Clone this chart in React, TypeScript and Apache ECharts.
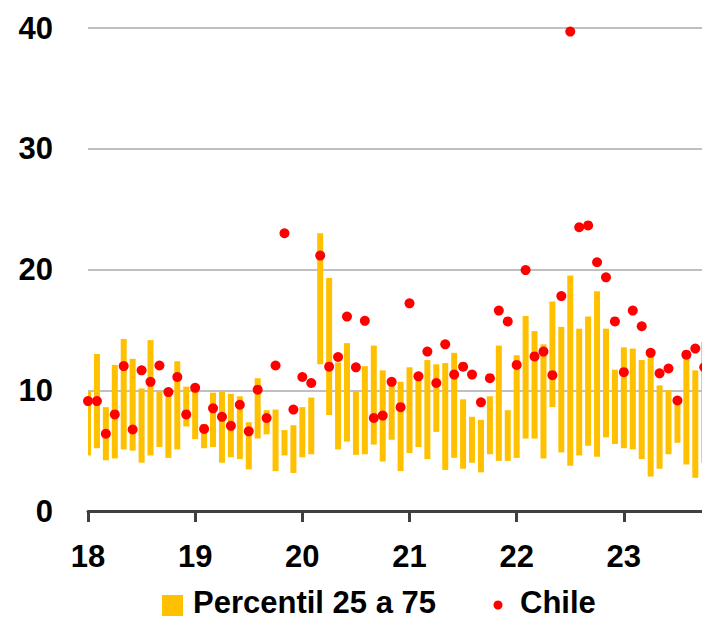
import React, { useEffect, useRef } from "react";
import * as echarts from "echarts";

const yearLabels = ["18", "19", "20", "21", "22", "23"];
const yTicks = [0, 10, 20, 30, 40];

// Percentile 75 (top of bar) per month, Jan 2018 .. Oct 2023
const p75 = [
  9.9, 13.0, 8.6, 12.1, 14.25, 12.6, 10.15, 14.15, 9.9, 9.7, 12.4, 10.3,
  10.3, 7.2, 9.8, 9.9, 9.7, 9.5, 7.35, 11.0, 8.35, 8.4, 6.7, 7.1,
  8.6, 9.4, 23.0, 19.3, 12.3, 13.9, 9.9, 12.0, 13.7, 11.65, 10.65, 10.7,
  11.9, 11.25, 12.5, 12.15, 12.25, 13.1, 9.25, 7.8, 7.55, 9.5, 13.7, 8.35,
  12.9, 16.15, 14.9, 13.8, 17.35, 15.25, 19.5, 15.1, 16.1, 18.2, 15.1, 11.7,
  13.55, 13.45, 12.5, 12.85, 10.4, 10.0, 8.9, 12.9, 11.65, 14.0,
];
// Percentile 25 (bottom of bar)
const p25 = [
  4.6, 5.2, 4.2, 4.35, 5.1, 5.0, 4.0, 4.6, 5.3, 4.4, 5.1, 7.0,
  5.95, 5.2, 5.3, 4.0, 4.45, 4.3, 3.45, 6.0, 6.35, 3.3, 4.6, 3.15,
  4.45, 4.7, 12.15, 7.95, 5.1, 5.75, 4.65, 4.7, 5.5, 4.1, 5.9, 3.3,
  4.8, 5.3, 4.3, 6.55, 3.4, 4.4, 3.5, 4.0, 3.2, 4.7, 4.15, 4.15,
  4.4, 6.0, 6.0, 4.35, 8.6, 4.85, 3.75, 4.6, 5.4, 4.5, 6.1, 5.55,
  5.2, 5.1, 4.3, 2.85, 3.5, 4.7, 5.65, 3.85, 2.75, 4.0,
];
// Chile
const chile = [
  9.1, 9.1, 6.4, 8.0, 12.0, 6.75, 11.65, 10.7, 12.05, 9.85, 11.1, 8.0,
  10.2, 6.8, 8.5, 7.8, 7.05, 8.8, 6.6, 10.05, 7.7, 12.05, 23.0, 8.4,
  11.1, 10.6, 21.15, 11.95, 12.75, 16.1, 11.9, 15.75, 7.7, 7.9, 10.7, 8.6,
  17.2, 11.15, 13.2, 10.6, 13.8, 11.3, 11.95, 11.3, 9.0, 11.0, 16.6, 15.7,
  12.1, 19.95, 12.8, 13.2, 11.25, 17.8, 39.7, 23.5, 23.65, 20.6, 19.35, 15.7,
  11.5, 16.6, 15.3, 13.1, 11.4, 11.8, 9.15, 12.95, 13.45, 11.9,
];

const FONT = '"Liberation Sans", Arial, sans-serif';
const BAR_W = 6;

export default function App() {
  const ref = useRef<HTMLDivElement>(null);
  useEffect(() => {
    if (!ref.current) return;
    const chart = echarts.init(ref.current, null, { renderer: "svg" });
    const ranges = p25.map((v, i) => [i, v, p75[i]]);
    const dots = chile.map((v, i) => [i, v]);
    chart.setOption({
      animation: false,
      grid: { left: 88, right: 0, top: 28, height: 483, containLabel: false },
      xAxis: {
        type: "value",
        min: 0,
        max: 68.75,
        interval: 12,
        axisLine: { show: true, lineStyle: { color: "#404040", width: 3 } },
        axisTick: { show: true, length: 11, lineStyle: { color: "#404040", width: 3 } },
        splitLine: { show: false },
        axisLabel: {
          margin: 30,
          showMaxLabel: false,
          color: "#000",
          fontSize: 31,
          fontWeight: "bold",
          fontFamily: FONT,
          formatter: (v: number) => (v % 12 === 0 ? yearLabels[v / 12] ?? "" : ""),
        },
      },
      yAxis: {
        type: "value",
        min: yTicks[0],
        max: yTicks[yTicks.length - 1],
        interval: 10,
        axisLine: { show: false },
        axisTick: { show: false },
        splitLine: { show: true, lineStyle: { color: "#c0c0c0", width: 2 } },
        axisLabel: {
          margin: 35,
          color: "#000",
          fontSize: 31,
          fontWeight: "bold",
          fontFamily: FONT,
        },
      },
      series: [
        {
          name: "Percentil 25 a 75",
          type: "custom",
          data: ranges,
          encode: { x: 0, y: [1, 2] },
          clip: false,
          renderItem: (params: any, api: any) => {
            const i = api.value(0);
            const lo = api.coord([i, api.value(1)]);
            const hi = api.coord([i, api.value(2)]);
            const cs = params.coordSys;
            const rect = echarts.graphic.clipRectByRect(
              { x: lo[0] - BAR_W / 2, y: hi[1], width: BAR_W, height: lo[1] - hi[1] },
              { x: cs.x, y: cs.y, width: cs.width + 1, height: cs.height }
            );
            if (!rect) return null;
            return { type: "rect", shape: rect, style: { fill: "#FFC000" } };
          },
          z: 2,
        },
        {
          name: "Chile",
          type: "scatter",
          data: dots,
          symbolSize: 10,
          clip: false,
          itemStyle: { color: "#FF0000", opacity: 1 },
          z: 5,
        },
      ],
      graphic: [
        { type: "rect", left: 162, top: 595, shape: { width: 21, height: 21 }, style: { fill: "#FFC000" } },
        {
          type: "text",
          x: 193,
          y: 602,
          style: {
            text: "Percentil 25 a 75",
            fill: "#000",
            fontSize: 31,
            lineHeight: 26,
            fontWeight: "bold",
            fontFamily: FONT,
            verticalAlign: "middle",
          },
        },
        { type: "circle", shape: { cx: 498, cy: 605, r: 4.5 }, style: { fill: "#FF0000" } },
        {
          type: "text",
          x: 520,
          y: 602,
          style: {
            text: "Chile",
            fill: "#000",
            fontSize: 31,
            lineHeight: 26,
            fontWeight: "bold",
            fontFamily: FONT,
            verticalAlign: "middle",
          },
        },
      ],
    });
    return () => chart.dispose();
  }, []);
  return (
    <div
      ref={ref}
      style={{ position: "fixed", left: 0, top: 0, width: 702, height: 619, background: "#fff" }}
    />
  );
}
